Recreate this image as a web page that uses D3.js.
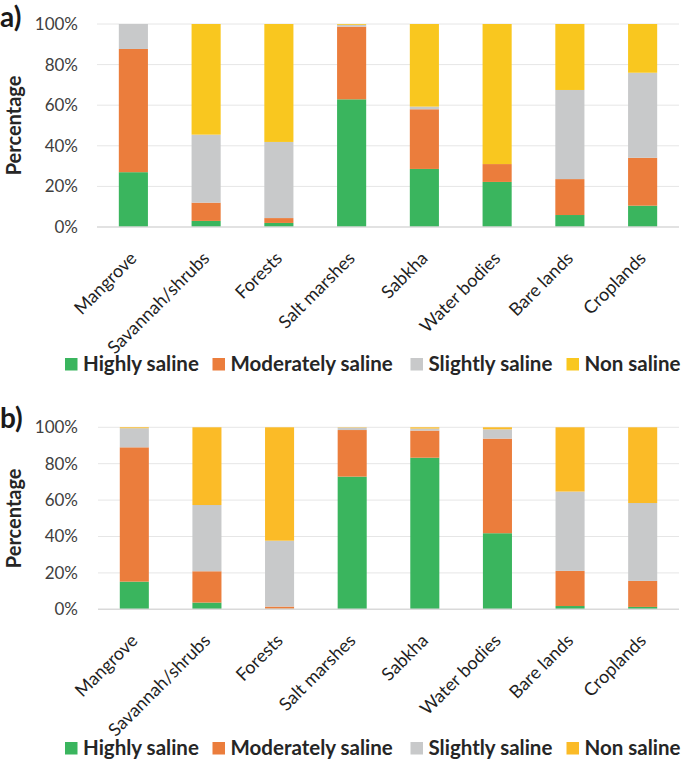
<!DOCTYPE html>
<html>
<head>
<meta charset="utf-8">
<script src="https://cdn.jsdelivr.net/npm/d3@7"></script>
<style>
  html, body { margin: 0; padding: 0; background: #fff; }
  svg { display: block; font-family: Lato, "Open Sans", sans-serif; }
</style>
</head>
<body>
<svg id="chart" width="685" height="761"></svg>
<script>
const categories = ["Mangrove", "Savannah/shrubs", "Forests", "Salt marshes", "Sabkha", "Water bodies", "Bare lands", "Croplands"];
const seriesNames = ["Highly saline", "Moderately saline", "Slightly saline", "Non saline"];
const tickValues = [0, 20, 40, 60, 80, 100];
const tickLabels = ["0%", "20%", "40%", "60%", "80%", "100%"];

// Panel a
const highlyA     = [27.0, 3.0, 2.0, 62.9, 28.6, 22.2, 5.9, 10.5];
const moderatelyA = [60.7, 9.0, 2.4, 35.8, 29.4, 8.8, 17.7, 23.6];
const slightlyA   = [12.3, 33.5, 37.5, 0.9, 1.3, 0.0, 43.9, 41.9];
const nonA        = [0.0, 54.5, 58.1, 0.4, 40.7, 69.0, 32.5, 24.0];

// Panel b
const highlyB     = [15.2, 3.7, 0.3, 72.9, 83.3, 41.8, 1.8, 1.3];
const moderatelyB = [73.8, 17.2, 1.2, 25.6, 14.9, 52.0, 19.3, 14.3];
const slightlyB   = [10.5, 36.4, 36.2, 1.3, 1.1, 5.1, 43.6, 42.8];
const nonB        = [0.5, 42.7, 62.3, 0.2, 0.7, 1.1, 35.3, 41.6];

const colorsA = ["#3ab55e", "#eb7d3c", "#c8c9ca", "#f9c71f"];
const colorsB = ["#3ab55e", "#eb7d3c", "#c8c9ca", "#fbbb27"];

const svg = d3.select("#chart");

function panel(opts) {
  const { label, series, colors, x0, x1, yTop, yBot, labelY, legendY } = opts;
  const g = svg.append("g");
  const rows = categories.map((c, i) => {
    const r = { cat: c };
    seriesNames.forEach((s, k) => r[s] = series[k][i]);
    return r;
  });
  const stack = d3.stack().keys(seriesNames)(rows);

  const x = d3.scaleBand().domain(categories).range([x0, x1]).paddingInner(0.6).paddingOuter(0.3);
  const y = d3.scaleLinear().domain([0, 100]).range([yBot, yTop]);

  // gridlines
  g.append("g").selectAll("line").data(tickValues.filter(v => v > 0)).join("line")
    .attr("x1", x0).attr("x2", x1)
    .attr("y1", d => y(d)).attr("y2", d => y(d))
    .attr("stroke", "#e6e6e6").attr("stroke-width", 1);

  // y axis labels
  const yAxis = d3.axisLeft(y).tickValues(tickValues).tickFormat((d, i) => tickLabels[i]).tickSize(0).tickPadding(0);
  const ya = g.append("g").attr("transform", `translate(${78},0)`).call(yAxis);
  ya.select(".domain").remove();
  ya.selectAll("text").attr("font-size", 17).attr("fill", "#404040").attr("font-family", "Lato, sans-serif");

  // bars
  g.append("g").selectAll("g").data(stack).join("g")
    .attr("fill", (d, i) => colors[i])
    .selectAll("rect").data(d => d).join("rect")
    .attr("x", d => x(d.data.cat))
    .attr("width", x.bandwidth())
    .attr("y", d => y(d[1]))
    .attr("height", d => Math.max(0, y(d[0]) - y(d[1])));

  // baseline axis
  g.append("line").attr("x1", x0).attr("x2", x1).attr("y1", yBot).attr("y2", yBot)
    .attr("stroke", "#d9d9d9").attr("stroke-width", 1.5);

  // category labels
  g.append("g").selectAll("text").data(categories).join("text")
    .attr("transform", d => `translate(${x(d) + x.bandwidth() / 2},${yBot + 28}) rotate(-45)`)
    .attr("text-anchor", "end").attr("dy", "0.35em")
    .attr("font-size", 18).attr("fill", "#1f1f1f")
    .text(d => d);

  // y title
  g.append("text")
    .attr("transform", `translate(${21},${(yTop + yBot) / 2}) rotate(-90)`)
    .attr("text-anchor", "middle")
    .attr("font-size", 20).attr("font-weight", "bold").attr("fill", "#262626")
    .text("Percentage");

  // panel label
  g.append("text").attr("x", 0).attr("y", labelY)
    .attr("font-size", 28).attr("font-weight", "bold").attr("fill", "#1a1a1a")
    .text(label);

  // legend
  const legX = [65, 212.5, 410.5, 566.5];
  const leg = g.append("g").selectAll("g").data(seriesNames).join("g")
    .attr("transform", (d, i) => `translate(${legX[i]},${legendY})`);
  leg.append("rect").attr("x", 0).attr("y", -13).attr("width", 12.5).attr("height", 12.5)
    .attr("fill", (d, i) => colors[i]);
  leg.append("text").attr("x", 18).attr("y", 0)
    .attr("font-size", 20.5).attr("font-weight", "bold").attr("fill", "#262626")
    .text(d => d);
}

panel({ label: "a)", series: [highlyA, moderatelyA, slightlyA, nonA], colors: colorsA,
        x0: 97, x1: 679, yTop: 24, yBot: 227, labelY: 27, legendY: 371 });
panel({ label: "b)", series: [highlyB, moderatelyB, slightlyB, nonB], colors: colorsB,
        x0: 98, x1: 679, yTop: 427.3, yBot: 609.3, labelY: 428, legendY: 755 });
</script>
</body>
</html>
